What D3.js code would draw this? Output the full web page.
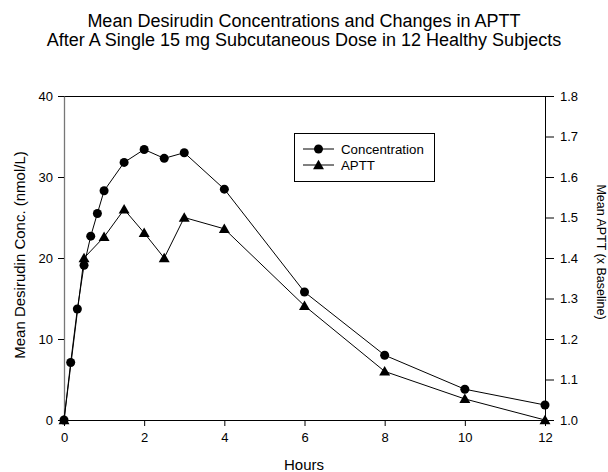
<!DOCTYPE html>
<html><head><meta charset="utf-8">
<script src="https://cdn.jsdelivr.net/npm/d3@7"></script>
<style>body{margin:0;background:#fff;} svg{display:block;font-family:"Liberation Sans",Arial,sans-serif;}</style>
</head><body>
<svg id="chart" width="608" height="472"></svg>
<script>
const titleLines = ["Mean Desirudin Concentrations and Changes in APTT", "After A Single 15 mg Subcutaneous Dose in 12 Healthy Subjects"];
const concHours = [0, 0.167, 0.333, 0.5, 0.667, 0.833, 1, 1.5, 2, 2.5, 3, 4, 6, 8, 10, 12];
const concValues = [0, 7.1, 13.7, 19.1, 22.7, 25.5, 28.3, 31.8, 33.4, 32.3, 33.0, 28.5, 15.8, 8.0, 3.8, 1.85];
const apttHours = [0, 0.5, 1, 1.5, 2, 2.5, 3, 4, 6, 8, 10, 12];
const apttValues = [1.0, 1.40, 1.452, 1.52, 1.462, 1.40, 1.50, 1.472, 1.282, 1.12, 1.052, 1.0];
const xTicks = [0, 2, 4, 6, 8, 10, 12];
const leftTicks = [0, 10, 20, 30, 40];
const rightTicks = [1.0, 1.1, 1.2, 1.3, 1.4, 1.5, 1.6, 1.7, 1.8];
const seriesNames = ["Concentration", "APTT"];

const svg = d3.select("#chart");
const x = d3.scaleLinear().domain([0, 12]).range([64, 545]);
const yL = d3.scaleLinear().domain([0, 40]).range([420, 96]);
const yR = d3.scaleLinear().domain([1.0, 1.8]).range([420, 96]);

// title
svg.append("g").selectAll("text").data(titleLines).join("text")
  .attr("x", 304).attr("y", (d, i) => 27 + i * 19)
  .attr("text-anchor", "middle").attr("font-size", 18).attr("fill", "#000")
  .text(d => d);

// frame top
svg.append("line").attr("x1", x(0)).attr("x2", x(12)).attr("y1", yL(40) + 0.5).attr("y2", yL(40) + 0.5).attr("stroke", "#000");

function styleAxis(g) {
  g.selectAll("path, line").attr("stroke", "#000");
  g.selectAll("text").attr("font-size", 13).attr("fill", "#000").attr("font-family", '"Liberation Sans",Arial,sans-serif');
}
svg.append("g").attr("transform", `translate(0,${yL(0)})`)
  .call(d3.axisBottom(x).tickValues(xTicks).tickSize(6).tickSizeOuter(0).tickPadding(7).tickFormat(d3.format("d")))
  .call(styleAxis);
const gl = svg.append("g").attr("transform", `translate(${x(0)},0)`)
  .call(d3.axisLeft(yL).tickValues(leftTicks).tickSize(6).tickSizeOuter(0).tickPadding(5).tickFormat(d3.format("d")))
  .call(styleAxis);
gl.select(".domain").attr("stroke", "#777").attr("stroke-width", 1.3);
svg.append("g").attr("transform", `translate(${x(12)},0)`)
  .call(d3.axisRight(yR).tickValues(rightTicks).tickSize(9).tickSizeOuter(0).tickPadding(6).tickFormat(d3.format(".1f")))
  .call(styleAxis);

// axis titles
svg.append("text").attr("x", 304).attr("y", 470).attr("text-anchor", "middle").attr("font-size", 15).text("Hours");
svg.append("text").attr("transform", "translate(25,255) rotate(-90)").attr("text-anchor", "middle").attr("font-size", 15).text("Mean Desirudin Conc. (nmol/L)");
svg.append("text").attr("transform", "translate(597,252) rotate(90)").attr("text-anchor", "middle").attr("font-size", 12.5).text("Mean APTT (x Baseline)");

const conc = concHours.map((h, i) => [h, concValues[i]]);
const aptt = apttHours.map((h, i) => [h, apttValues[i]]);

svg.append("path").datum(conc).attr("fill", "none").attr("stroke", "#000").attr("stroke-width", 1)
  .attr("d", d3.line().x(d => x(d[0])).y(d => yL(d[1])));
svg.append("path").datum(aptt).attr("fill", "none").attr("stroke", "#000").attr("stroke-width", 1)
  .attr("d", d3.line().x(d => x(d[0])).y(d => yR(d[1])));

const tri = d3.symbol().type(d3.symbolTriangle).size(52);
svg.append("g").selectAll("path").data(aptt).join("path")
  .attr("transform", d => `translate(${x(d[0])},${yR(d[1]) + 1})`).attr("d", tri).attr("fill", "#000");
svg.append("g").selectAll("circle").data(conc).join("circle")
  .attr("cx", d => x(d[0])).attr("cy", d => yL(d[1])).attr("r", 4.5).attr("fill", "#000");

// legend
const lg = svg.append("g");
lg.append("rect").attr("x", 294.5).attr("y", 133.5).attr("width", 140).attr("height", 48).attr("fill", "#fff").attr("stroke", "#000");
seriesNames.forEach((name, i) => {
  const cy = 149 + i * 16;
  lg.append("line").attr("x1", 303).attr("x2", 334).attr("y1", cy).attr("y2", cy).attr("stroke", "#000");
  if (i === 0) lg.append("circle").attr("cx", 318.5).attr("cy", cy).attr("r", 4.5).attr("fill", "#000");
  else lg.append("path").attr("transform", `translate(318.5,${cy + 1})`).attr("d", tri).attr("fill", "#000");
  lg.append("text").attr("x", 341).attr("y", cy + 4.5).attr("font-size", 13.3).text(name);
});
</script>
</body></html>
